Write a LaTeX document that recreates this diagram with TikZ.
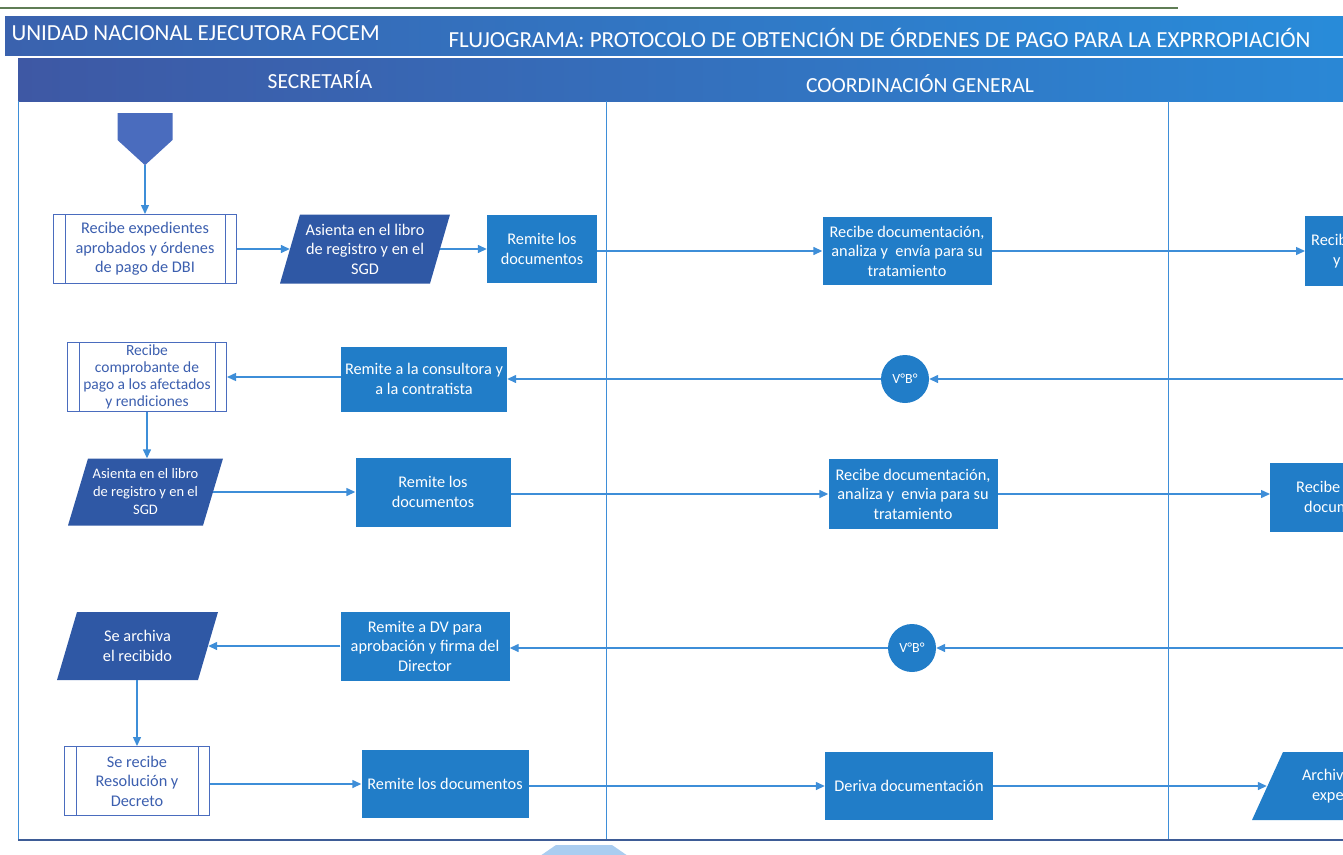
\documentclass[tikz,border=0pt]{standalone}
\usepackage{fontspec}
\setmainfont{Carlito}
\usetikzlibrary{shapes, shapes.geometric, shapes.symbols, arrows.meta, calc, positioning}

\definecolor{titleL}{RGB}{58,98,174}
\definecolor{titleR}{RGB}{40,140,218}
\definecolor{laneL}{RGB}{62,88,164}
\definecolor{laneR}{RGB}{42,136,214}
\definecolor{procblue}{RGB}{33,125,200}
\definecolor{darkblue}{RGB}{47,88,165}
\definecolor{startblue}{RGB}{74,108,190}
\definecolor{flowblue}{RGB}{62,142,216}
\definecolor{framedark}{RGB}{62,92,150}
\definecolor{rulegreen}{RGB}{95,125,85}
\definecolor{lightblue}{RGB}{170,205,240}
\definecolor{subtext}{RGB}{60,95,175}

\tikzset{
  paracol/.store in=\paracol, paraslant/.store in=\paraslant,
  paracol=darkblue, paraslant=20pt,
  txt/.style={font=\fontsize{16.3}{19.5}\selectfont},
  proc/.style={rectangle, fill=procblue, text=white, align=center, inner sep=0pt, txt},
  para/.style={rectangle, text=white, align=center, inner sep=0pt, txt,
    path picture={\fill[\paracol] ([xshift=\paraslant]path picture bounding box.north west)
      -- (path picture bounding box.north east) -- ([xshift=-\paraslant]path picture bounding box.south east)
      -- (path picture bounding box.south west) -- cycle;}},
  subproc/.style={rectangle, draw=startblue, line width=1pt, fill=white, text=subtext,
    align=center, inner sep=0pt, txt},
  vb/.style={circle, fill=procblue, text=white, minimum size=48pt, inner sep=0pt,
    font=\fontsize{14}{16}\selectfont},
  flow/.style={draw=flowblue, line width=1.4pt, -{Triangle[length=9pt,width=8pt]}},
  intoP/.style={shorten >=-10pt},
  outP/.style={shorten <=-10pt},
  lane/.style={draw=flowblue, line width=0.8pt},
  head/.style={text=white, font=\fontsize{21.5}{24}\selectfont},
}

\begin{document}
\begin{tikzpicture}[x=1pt, y=-1pt]
\useasboundingbox (0,0) rectangle (1343,854);
\clip (0,0) rectangle (1343,854);

% Header
\draw[rulegreen, line width=1.2pt] (0,8) -- (1178,8);
\shade[left color=titleL, right color=titleR] (5,16) rectangle (1360,55);
\node[anchor=west, text=white, font=\fontsize{23}{26}\selectfont] (unidad) at (8,33) {UNIDAD NACIONAL EJECUTORA FOCEM};
\node[anchor=west, text=white, font=\fontsize{23}{26}\selectfont] (titulo) at (445,38) {FLUJOGRAMA: PROTOCOLO DE OBTENCIÓN DE ÓRDENES DE PAGO PARA LA EXPRROPIACIÓN};

% Lanes
\shade[left color=laneL, right color=laneR] (18,58) rectangle (1360,101);
\node[head] (secretaria) at (320,80) {SECRETARÍA};
\node[head] (coordinacion) at (920,84) {COORDINACIÓN GENERAL};
\draw[lane] (18,101) -- (18,840);
\draw[lane] (606,101) -- (606,840);
\draw[lane] (1168,101) -- (1168,840);
\draw[framedark, line width=1.4pt] (18,840) -- (1360,840);
\fill[lightblue] (540,856) -- (556,845) -- (612,845) -- (628,856) -- cycle;

% Row 1
\node[signal, signal to=south, signal from=nowhere, signal pointer angle=95, fill=startblue,
  minimum width=55pt, minimum height=27pt, inner sep=0pt] (inicio) at (145,126.5) {};
\node[subproc, minimum width=183pt, minimum height=69pt] (b1) at (145,249) {Recibe expedientes\\aprobados y órdenes\\de pago de DBI};
\node[para, minimum width=170pt, minimum height=69pt] (asienta1) at (365,249) {Asienta en el libro\\de registro y en el\\SGD};
\node[proc, minimum width=110pt, minimum height=68pt] (remite1) at (542,249) {Remite los\\documentos};
\node[proc, minimum width=169pt, minimum height=68pt] (recibe1) at (907,251) {Recibe documentación,\\analiza y \ envía para su\\tratamiento};
\node[proc, anchor=west, minimum width=120pt, minimum height=70pt, align=left, text width=110pt, inner xsep=6pt] (far1) at (1305,251) {Recib\\\hspace*{22pt}y};

\draw[flow] (inicio) -- (b1);
\draw[flow, intoP] (b1) -- (asienta1);
\draw[flow, outP] (asienta1) -- (remite1);
\draw[flow] (remite1.east |- recibe1) -- (recibe1);
\draw[flow] (recibe1) -- (far1);

% Row 2
\node[subproc, minimum width=159pt, minimum height=69pt, font=\fontsize{15.5}{17}\selectfont] (b2) at (147,377) {Recibe\\comprobante de\\pago a los afectados\\y rendiciones};
\node[proc, minimum width=166pt, minimum height=65pt] (consultora) at (424,379) {Remite a la consultora y\\a la contratista};
\node[vb] (vb1) at (905,379) {V°B°};
\coordinate (in2) at (1360,379);

\draw[flow] (in2) -- (vb1);
\draw[flow] (vb1) -- (consultora);
\draw[flow] (consultora.west |- b2) -- (b2);

% Row 3
\node[para, minimum width=155pt, minimum height=67pt, font=\fontsize{14.5}{18}\selectfont] (asienta2) at (145.5,492) {Asienta en el libro\\de registro y en el\\SGD};
\node[proc, minimum width=155pt, minimum height=69pt] (remite2) at (433,492) {Remite los\\documentos};
\node[proc, minimum width=169pt, minimum height=70pt] (recibe2) at (913,494) {Recibe documentación,\\analiza y \ envia para su\\tratamiento};
\node[proc, anchor=west, minimum width=120pt, minimum height=69pt, align=left, text width=110pt, inner xsep=6pt] (far3) at (1270,497) {\hspace*{20pt}Recibe\\\hspace*{28pt}docum};

\draw[flow] (b2.south) -- (b2.south |- asienta2.north);
\draw[flow, outP] (asienta2) -- (remite2);
\draw[flow] (remite2.east |- recibe2) -- (recibe2);
\draw[flow] (recibe2) -- (far3.west |- recibe2);

% Row 4
\node[para, minimum width=161pt, minimum height=68pt] (archiva) at (137.5,646) {Se archiva\\el recibido};
\node[proc, minimum width=169pt, minimum height=69pt] (remiteDV) at (425,646) {Remite a DV para\\aprobación y firma del\\Director};
\node[vb] (vb2) at (912,648) {V°B°};
\coordinate (in4) at (1360,648);

\draw[flow] (in4) -- (vb2);
\draw[flow] (vb2) -- (remiteDV.east |- vb2);
\draw[flow, intoP] (remiteDV) -- (archiva);

% Row 5
\node[subproc, minimum width=145pt, minimum height=69pt] (b5) at (137,781) {Se recibe\\Resolución y\\Decreto};
\node[proc, minimum width=167pt, minimum height=68pt] (remite5) at (445,784) {Remite los documentos};
\node[proc, minimum width=168pt, minimum height=68pt] (deriva) at (909,786) {Deriva documentación};
\node[para, paracol=procblue, paraslant=31pt, minimum width=200pt, minimum height=68pt,
  align=left, text width=170pt] (far5) at (1352,786) {\hspace*{35pt}Archiv\\\hspace*{45pt}expe};

\draw[flow] (archiva.south -| b5) -- (b5);
\draw[flow] (b5.east |- remite5) -- (remite5);
\draw[flow] (remite5.east |- deriva) -- (deriva);
\draw[flow, shorten >=-15pt] (deriva) -- (far5);

% Sub-process side lines
\foreach \n in {b1, b2, b5}
  \draw[startblue, line width=0.8pt] ([xshift=12pt]\n.north west) -- ([xshift=12pt]\n.south west)
                                     ([xshift=-12pt]\n.north east) -- ([xshift=-12pt]\n.south east);
\end{tikzpicture}
\end{document}
